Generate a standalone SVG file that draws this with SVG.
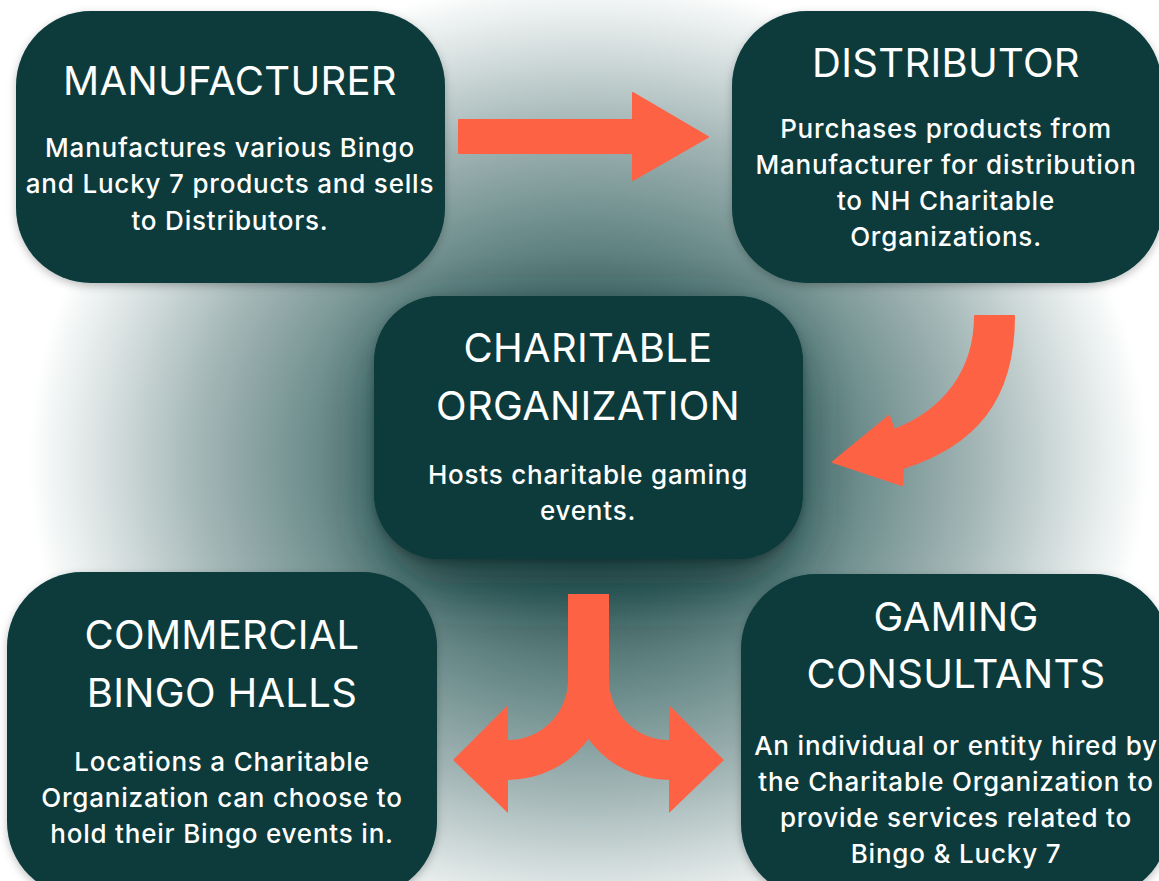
<svg xmlns="http://www.w3.org/2000/svg" width="1159" height="881" viewBox="0 0 1159 881">
<defs>
<radialGradient id="bg" gradientUnits="userSpaceOnUse" cx="588" cy="460" r="560" gradientTransform="translate(588 460) scale(1 0.86) translate(-588 -460)">
<stop offset="0" stop-color="#143f3e"/>
<stop offset="0.3" stop-color="#3f6564"/>
<stop offset="0.5" stop-color="#6f8f8e"/>
<stop offset="0.7" stop-color="#a5b7b7"/>
<stop offset="0.86" stop-color="#d6dfdf"/>
<stop offset="1" stop-color="#ffffff"/>
</radialGradient>
<filter id="halo" x="-50%" y="-50%" width="200%" height="200%"><feGaussianBlur stdDeviation="28"/></filter>
<filter id="sh" x="-10%" y="-10%" width="120%" height="125%"><feDropShadow dx="0" dy="3" stdDeviation="4" flood-color="#000" flood-opacity="0.25"/></filter>
<style>
.box{fill:#083a3b;filter:url(#sh)}
.t{font-family:"Inter","Open Sans","Liberation Sans",sans-serif;fill:#ffffff;text-anchor:middle}
.h{font-size:40px;font-weight:400;letter-spacing:0.3px}
.b{font-size:26px;font-weight:500;letter-spacing:0.8px}
.arr{fill:#fe6244;stroke:#fe6244;stroke-width:2;stroke-linejoin:round}
</style>
</defs>
<rect x="0" y="0" width="1159" height="881" fill="url(#bg)"/>
<rect x="384" y="320" width="409" height="263" rx="65" fill="#0b3534" opacity="0.75" filter="url(#halo)"/>

<g id="connectors">
<polygon class="arr" points="459,120 633,120 633,93 708,137 633,180 633,153 459,153"/>
<path class="arr" d="M975,316 L1014,316 C1014,400 975,445 903,468 L902,485 L833,462 L889,416 L894,430 C945,410 975,370 975,316 Z"/>
<path class="arr" style="stroke:none" d="M568,594 L609,594 L609,680 A60,60 0 0 0 669,740 L669,705 L724,760 L669,813 L669,780 A100,100 0 0 1 588.5,739 A100,100 0 0 1 508,780 L508,813 L453,760 L508,705 L508,740 A60,60 0 0 0 568,680 Z"/>
</g>

<g id="manufacturer">
<rect class="box" x="16" y="11" width="429" height="272" rx="75"/>
<text class="t h" x="230" y="95">MANUFACTURER</text>
<text class="t b" x="230" y="157">Manufactures various Bingo</text>
<text class="t b" x="230" y="193">and Lucky 7 products and sells</text>
<text class="t b" x="230" y="230">to Distributors.</text>
</g>

<g id="distributor">
<rect class="box" x="732" y="11" width="430" height="272" rx="75"/>
<text class="t h" x="946" y="77">DISTRIBUTOR</text>
<text class="t b" x="946" y="138">Purchases products from</text>
<text class="t b" x="946" y="174">Manufacturer for distribution</text>
<text class="t b" x="946" y="210">to NH Charitable</text>
<text class="t b" x="946" y="246">Organizations.</text>
</g>

<g id="charitable">
<rect class="box" x="374" y="296" width="429" height="263" rx="65"/>
<text class="t h" x="588" y="362">CHARITABLE</text>
<text class="t h" x="588" y="420">ORGANIZATION</text>
<text class="t b" x="588" y="484">Hosts charitable gaming</text>
<text class="t b" x="588" y="520">events.</text>
</g>

<g id="commercial">
<rect class="box" x="7" y="572" width="430" height="325" rx="75"/>
<text class="t h" x="222" y="649">COMMERCIAL</text>
<text class="t h" x="222" y="707">BINGO HALLS</text>
<text class="t b" x="222" y="771">Locations a Charitable</text>
<text class="t b" x="222" y="807">Organization can choose to</text>
<text class="t b" x="222" y="843">hold their Bingo events in.</text>
</g>

<g id="consultants">
<rect class="box" x="741" y="574" width="428" height="325" rx="75"/>
<text class="t h" x="956" y="631">GAMING</text>
<text class="t h" x="956" y="688">CONSULTANTS</text>
<text class="t b" x="956" y="755">An individual or entity hired by</text>
<text class="t b" x="956" y="791">the Charitable Organization to</text>
<text class="t b" x="956" y="827">provide services related to</text>
<text class="t b" x="956" y="863">Bingo &amp; Lucky 7</text>
</g>
</svg>
